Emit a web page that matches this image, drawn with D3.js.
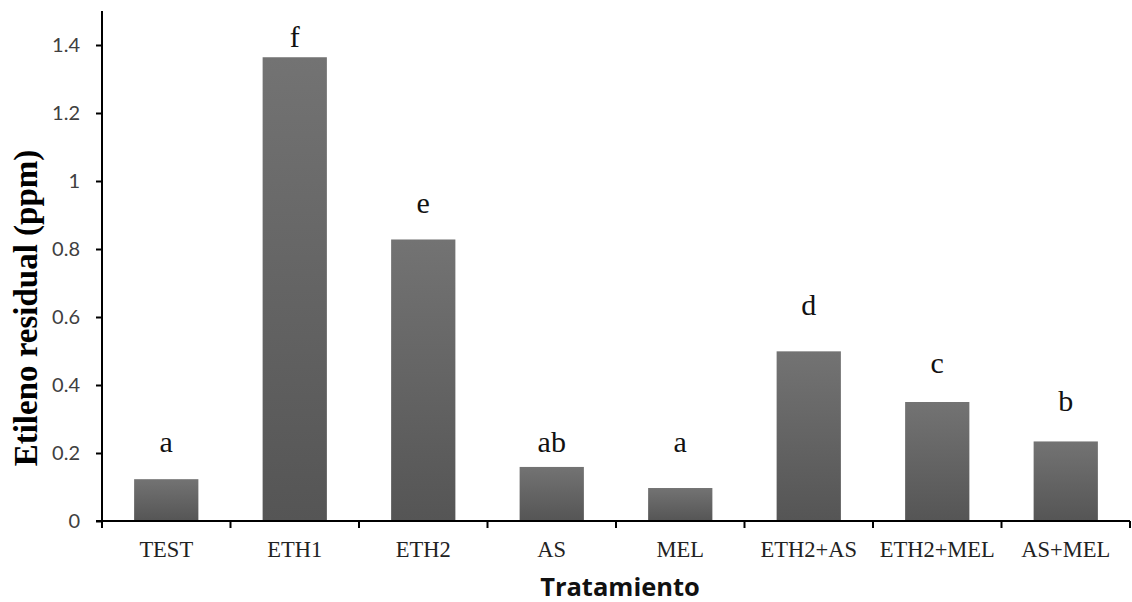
<!DOCTYPE html>
<html>
<head>
<meta charset="utf-8">
<script src="https://cdn.jsdelivr.net/npm/d3@7"></script>
<style>
  html, body { margin: 0; padding: 0; background: #fff; }
  svg { display: block; }
</style>
</head>
<body>
<svg id="chart" width="1132" height="602"></svg>
<script>
// Residual ethylene per treatment
const categories = ["TEST", "ETH1", "ETH2", "AS", "MEL", "ETH2+AS", "ETH2+MEL", "AS+MEL"];
const values = [0.123, 1.364, 0.828, 0.159, 0.097, 0.499, 0.350, 0.234];
// Significance letters and the level (ppm) where each letter sits
const letters = ["a", "f", "e", "ab", "a", "d", "c", "b"];
const letterLevel = [0.203, 1.395, 0.907, 0.203, 0.203, 0.605, 0.435, 0.323];
const yTicks = [0, 0.2, 0.4, 0.6, 0.8, 1, 1.2, 1.4];

const svg = d3.select("#chart");
const margin = { left: 102, right: 2, top: 11, bottom: 81 };
const W = 1132, H = 602;

const x = d3.scaleBand()
  .domain(categories)
  .range([margin.left, 1130])
  .paddingInner(0.5)
  .paddingOuter(0.25);

const y = d3.scaleLinear()
  .domain([0, 1.5])
  .range([H - margin.bottom, margin.top]);

// Vertical gradient for the bars
const defs = svg.append("defs");
const grad = defs.append("linearGradient")
  .attr("id", "barGrad").attr("x1", 0).attr("y1", 0).attr("x2", 0).attr("y2", 1);
grad.append("stop").attr("offset", "0%").attr("stop-color", "#737373");
grad.append("stop").attr("offset", "100%").attr("stop-color", "#555555");

// Bars
svg.append("g").selectAll("rect")
  .data(categories)
  .join("rect")
  .attr("x", d => x(d))
  .attr("width", x.bandwidth())
  .attr("y", (d, i) => y(values[i]))
  .attr("height", (d, i) => y(0) - y(values[i]))
  .attr("fill", "url(#barGrad)");

// Significance letters
svg.append("g").selectAll("text")
  .data(categories)
  .join("text")
  .attr("x", d => x(d) + x.bandwidth() / 2)
  .attr("y", (d, i) => y(letterLevel[i]))
  .attr("text-anchor", "middle")
  .attr("font-family", "'Liberation Serif', 'Times New Roman', serif")
  .attr("font-size", 30)
  .attr("fill", "#111")
  .text((d, i) => letters[i]);

// Y axis
const yAxis = svg.append("g")
  .attr("transform", `translate(${margin.left},0)`)
  .call(d3.axisLeft(y).tickValues(yTicks).tickSize(6).tickPadding(16)
    .tickFormat(d => d3.format("")(+d.toFixed(1))))
  .call(g => g.select(".domain").attr("stroke", "#000").attr("stroke-width", 2)
    .attr("d", `M0,${y(0)}V${margin.top}`));
yAxis.selectAll(".tick line").attr("stroke", "#000").attr("stroke-width", 2);
yAxis.selectAll(".tick text")
  .attr("font-family", "Lato, 'Open Sans', sans-serif")
  .attr("font-size", 20)
  .attr("fill", "#404040");

// X axis: ticks at category boundaries
const xg = svg.append("g").attr("transform", `translate(0,${y(0)})`);
xg.append("line")
  .attr("x1", margin.left - 6).attr("x2", 1130)
  .attr("stroke", "#000").attr("stroke-width", 2);
const step = x.step();
xg.selectAll("line.tk")
  .data(d3.range(categories.length + 1))
  .join("line")
  .attr("class", "tk")
  .attr("x1", i => margin.left + i * step)
  .attr("x2", i => margin.left + i * step)
  .attr("y1", 0).attr("y2", 7)
  .attr("stroke", "#000").attr("stroke-width", 2);
xg.selectAll("text")
  .data(categories)
  .join("text")
  .attr("x", d => x(d) + x.bandwidth() / 2)
  .attr("y", 36)
  .attr("text-anchor", "middle")
  .attr("font-family", "'Liberation Serif', 'Times New Roman', serif")
  .attr("font-size", 22.5)
  .attr("fill", "#222")
  .text(d => d);

// Axis titles
svg.append("text")
  .attr("transform", `translate(37,${(y(0) + margin.top) / 2 + 42}) rotate(-90)`)
  .attr("text-anchor", "middle")
  .attr("font-family", "'Liberation Serif', 'Times New Roman', serif")
  .attr("font-weight", "bold")
  .attr("font-size", 33)
  .attr("fill", "#000")
  .text("Etileno residual (ppm)");

svg.append("text")
  .attr("x", 620)
  .attr("y", 596)
  .attr("text-anchor", "middle")
  .attr("font-family", "'Open Sans', Lato, sans-serif")
  .attr("font-weight", "bold")
  .attr("font-size", 25.5)
  .attr("fill", "#111")
  .text("Tratamiento");
</script>
</body>
</html>
